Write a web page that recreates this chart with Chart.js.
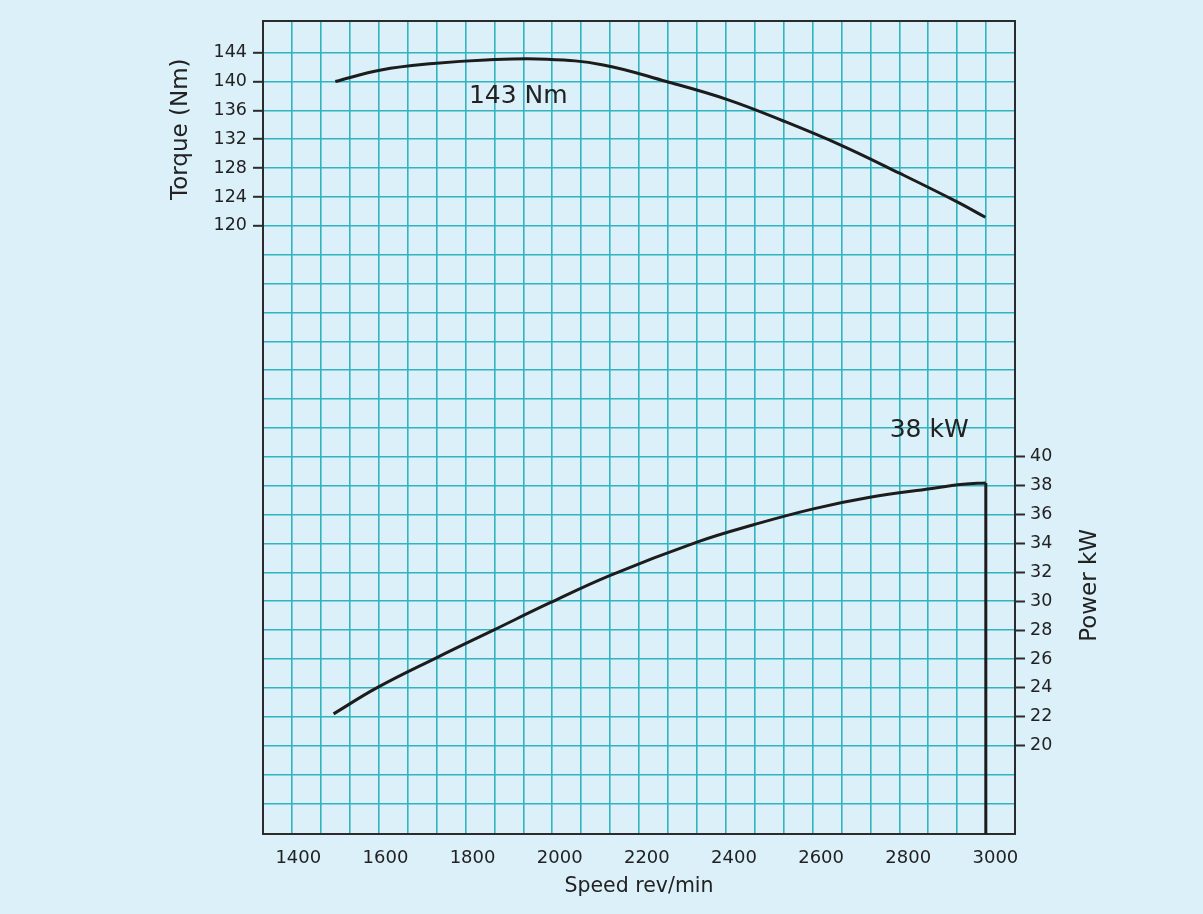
<!DOCTYPE html>
<html>
<head>
<meta charset="utf-8">
<title>Torque and power against speed</title>
<script src="https://cdn.jsdelivr.net/npm/chart.js@4.4.1/dist/chart.umd.min.js"></script>
<style>
  html, body { margin: 0; padding: 0; background: #dcf0fa; }
  #wrap { width: 1203px; height: 914px; }
</style>
</head>
<body>
<div id="wrap"><canvas id="engineChart" width="1203" height="914"></canvas></div>
<script>
// --- Curve data ---
const torqueSpeed  = [1485, 1590, 1710, 1830, 1970, 2100, 2245, 2385, 2515, 2645, 2780, 2910, 2977];
const torqueValues = [140.0, 141.6, 142.5, 143.0, 143.1, 142.3, 140.0, 137.5, 134.5, 131.2, 127.3, 123.4, 121.2];

const powerSpeed  = [1481, 1580, 1718, 1848, 1978, 2116, 2315, 2445, 2582, 2712, 2850, 2926, 2978];
const powerValues = [22.2, 24.0, 26.1, 28.0, 29.9, 31.8, 34.1, 35.3, 36.4, 37.2, 37.8, 38.1, 38.2];

// vertical drop from the power maximum down to the base line
const dropSpeed  = [2978, 2978];
const dropValues = [38.2, 0];

// --- Tick labels ---
const speedTicks  = [1400, 1600, 1800, 2000, 2200, 2400, 2600, 2800, 3000];
const torqueTicks = [120, 124, 128, 132, 136, 140, 144];
const powerTicks  = [20, 22, 24, 26, 28, 30, 32, 34, 36, 38, 40];

// --- Notes written on the curves ---
const noteTexts  = ['143 Nm', '38 kW'];
const noteSpeed  = [1905, 2848];
const noteValues = [137.9, 41.8];
const noteAxis   = ['yT', 'yP'];

// --- Axis ranges (the plot box reaches past the labelled ticks) ---
const SPEED_MIN = 1319, SPEED_MAX = 3045;
const TORQUE_MIN = 35.75, TORQUE_MAX = 148.39;
const POWER_MIN = 13.876, POWER_MAX = 70.198;

// horizontal grid rules every 4 Nm, vertical ones 26 columns across
const torqueGrid = [];
for (let v = 40; v <= 144; v += 4) torqueGrid.push(v);
const columnLines = [];
for (let c = 1; c < 26; c++) columnLines.push(c);

const FONT = "'DejaVu Sans', sans-serif";
const INK = '#222';
const GRID = '#2fb4c0';
const FRAME = '#2b2b2b';

const toPoints = (xs, ys) => xs.map((x, i) => ({ x: x, y: ys[i] }));
const setTicks = list => scale => { scale.ticks = list.map(v => ({ value: v })); };

// --- Draws the rotated axis titles and the notes ---
const labelPlugin = {
  id: 'labels',
  afterDraw(chart) {
    const ctx = chart.ctx;
    const s = chart.scales;
    ctx.save();
    ctx.fillStyle = INK;
    ctx.textAlign = 'center';
    ctx.textBaseline = 'middle';

    ctx.font = '23px ' + FONT;
    [['Torque (Nm)', s.yT.left + 181, s.yT.getPixelForValue(133.4)],
     ['Power kW', s.yP.left + 75, s.yP.getPixelForValue(31.1)]].forEach(t => {
      ctx.save();
      ctx.translate(t[1], t[2]);
      ctx.rotate(-Math.PI / 2);
      ctx.fillText(t[0], 0, 0);
      ctx.restore();
    });

    ctx.font = '25px ' + FONT;
    noteTexts.forEach((txt, i) => {
      ctx.fillText(txt, s.x.getPixelForValue(noteSpeed[i]), s[noteAxis[i]].getPixelForValue(noteValues[i]));
    });
    ctx.restore();
  }
};

const lineStyle = {
  borderColor: '#1c1c1c',
  borderWidth: 3,
  pointRadius: 0,
  fill: false
};

new Chart(document.getElementById('engineChart'), {
  type: 'line',
  data: {
    datasets: [
      Object.assign({ label: 'Torque', data: toPoints(torqueSpeed, torqueValues), yAxisID: 'yT', tension: 0.4 }, lineStyle),
      Object.assign({ label: 'Power', data: toPoints(powerSpeed, powerValues), yAxisID: 'yP', tension: 0.4 }, lineStyle),
      Object.assign({ label: 'Power limit', data: toPoints(dropSpeed, dropValues), yAxisID: 'yP', tension: 0 }, lineStyle)
    ]
  },
  options: {
    responsive: false,
    animation: false,
    devicePixelRatio: 1,
    layout: { autoPadding: false, padding: { top: 21, left: 0, right: 0, bottom: 0 } },
    plugins: { legend: { display: false }, tooltip: { enabled: false } },
    scales: {
      x: {
        type: 'linear', position: 'bottom',
        min: SPEED_MIN, max: SPEED_MAX,
        afterBuildTicks: setTicks(speedTicks),
        afterFit: scale => { scale.height = 80; },
        grid: { display: false, drawTicks: false },
        border: { display: true, color: FRAME, width: 2 },
        ticks: {
          autoSkip: false, maxRotation: 0, padding: 14, color: INK, font: { family: FONT, size: 18 },
          callback: v => String(v)
        },
        title: { display: true, text: 'Speed rev/min', color: INK, font: { family: FONT, size: 20.5 }, padding: { top: 0, bottom: 15 } }
      },
      xg: {
        type: 'linear', position: 'top',
        min: 0, max: 26,
        afterBuildTicks: setTicks(columnLines),
        grid: { color: GRID, lineWidth: 1.6, drawTicks: false },
        border: { display: true, color: FRAME, width: 2 },
        ticks: { display: false }
      },
      yT: {
        type: 'linear', position: 'left',
        min: TORQUE_MIN, max: TORQUE_MAX,
        afterBuildTicks: setTicks(torqueGrid),
        afterFit: scale => { scale.width = 263; },
        grid: {
          color: GRID, lineWidth: 1.6,
          tickLength: 10, tickWidth: 2,
          tickColor: c => (c.tick && torqueTicks.includes(c.tick.value)) ? FRAME : 'rgba(0,0,0,0)'
        },
        border: { display: true, color: FRAME, width: 2 },
        ticks: {
          autoSkip: false, padding: 6, color: INK, font: { family: FONT, size: 17.5 },
          callback: v => torqueTicks.includes(v) ? String(v) : ''
        }
      },
      yP: {
        type: 'linear', position: 'right',
        min: POWER_MIN, max: POWER_MAX,
        afterBuildTicks: setTicks(powerTicks),
        afterFit: scale => { scale.width = 188; },
        grid: { drawOnChartArea: false, tickLength: 10, tickWidth: 2, tickColor: FRAME },
        border: { display: true, color: FRAME, width: 2 },
        ticks: { autoSkip: false, padding: 5, color: INK, font: { family: FONT, size: 17.5 } }
      }
    }
  },
  plugins: [labelPlugin]
});
</script>
</body>
</html>
